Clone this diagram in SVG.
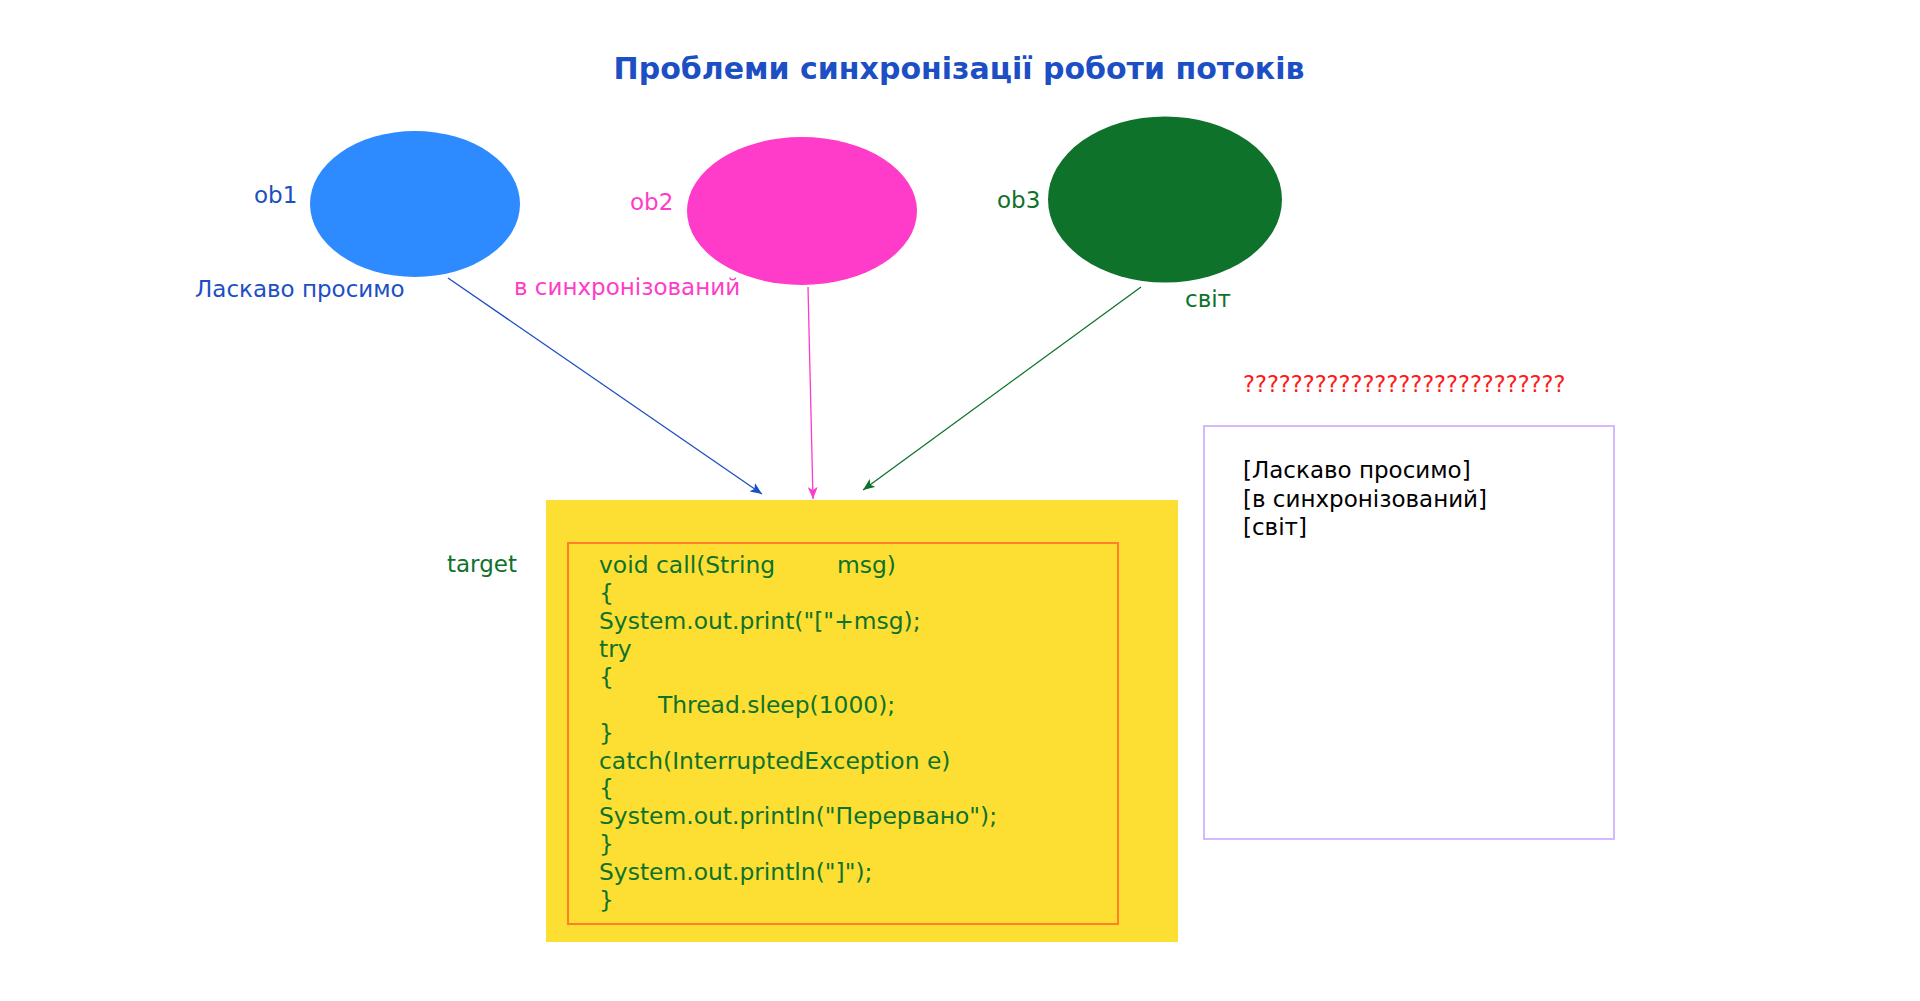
<svg xmlns="http://www.w3.org/2000/svg" width="1920" height="1001" viewBox="0 0 1920 1001">
<style>
text{font-family:"DejaVu Sans","Noto Sans",sans-serif;font-size:23px}
.title{font-weight:bold;font-size:30px;fill:#1c4fc4}
.blue{fill:#1c4fc4}
.pink{fill:#ff3bc9}
.green{fill:#0e722b}
.code{font-size:23.4px;fill:#0e722b}
.out{fill:#000}
.q{fill:#ff1a1a;font-size:22.5px}
.conn{fill:none;stroke-width:1.3}
</style>
<defs>
<marker id="ab" viewBox="0 0 12 10" refX="12" refY="5" markerWidth="12" markerHeight="10" markerUnits="userSpaceOnUse" orient="auto"><path d="M0,0 L12,5 L0,10 L3,5 z" fill="#1c4fc4"/></marker>
<marker id="ap" viewBox="0 0 12 10" refX="12" refY="5" markerWidth="12" markerHeight="10" markerUnits="userSpaceOnUse" orient="auto"><path d="M0,0 L12,5 L0,10 L3,5 z" fill="#ff3bc9"/></marker>
<marker id="ag" viewBox="0 0 12 10" refX="12" refY="5" markerWidth="12" markerHeight="10" markerUnits="userSpaceOnUse" orient="auto"><path d="M0,0 L12,5 L0,10 L3,5 z" fill="#0e722b"/></marker>
</defs>
<rect width="1920" height="1001" fill="#fff"/>
<text class="title" x="959" y="79" text-anchor="middle">Проблеми синхронізації роботи потоків</text>

<g id="ob1">
<ellipse cx="415" cy="204" rx="105" ry="73" fill="#2e8bff"/>
<text class="blue" x="254" y="203">ob1</text>
<text class="blue" x="195" y="297">Ласкаво просимо</text>
</g>
<g id="ob2">
<ellipse cx="802" cy="211" rx="115" ry="74" fill="#ff3bc9"/>
<text class="pink" x="630" y="210">ob2</text>
<text class="pink" x="514" y="295">в синхронізований</text>
</g>
<g id="ob3">
<ellipse cx="1165" cy="199.5" rx="117" ry="83" fill="#0e722b"/>
<text class="green" x="997" y="208">ob3</text>
<text class="green" x="1185" y="307">світ</text>
</g>

<g id="connectors">
<line class="conn" x1="448" y1="278" x2="762" y2="494" stroke="#1c4fc4" marker-end="url(#ab)"/>
<line class="conn" x1="808" y1="287" x2="813" y2="499" stroke="#ff3bc9" marker-end="url(#ap)"/>
<line class="conn" x1="1141" y1="287" x2="863" y2="490" stroke="#0e722b" marker-end="url(#ag)"/>
</g>

<g id="target">
<text class="green" x="447" y="572">target</text>
<rect x="546" y="500" width="632" height="442" fill="#fddf33"/>
<rect x="568" y="543" width="550" height="381" fill="none" stroke="#ff7f2a" stroke-width="2"/>
<text class="code">
<tspan x="599" y="573">void call(String</tspan><tspan x="837" y="573">msg)</tspan>
<tspan x="599" y="601">{</tspan>
<tspan x="599" y="629">System.out.print("["+msg);</tspan>
<tspan x="599" y="657">try</tspan>
<tspan x="599" y="685">{</tspan>
<tspan x="658" y="713">Thread.sleep(1000);</tspan>
<tspan x="599" y="741">}</tspan>
<tspan x="599" y="769">catch(InterruptedException e)</tspan>
<tspan x="599" y="796">{</tspan>
<tspan x="599" y="824">System.out.println("Перервано");</tspan>
<tspan x="599" y="852">}</tspan>
<tspan x="599" y="880">System.out.println("]");</tspan>
<tspan x="599" y="908">}</tspan>
</text>
</g>

<g id="output">
<text class="q" x="1243" y="392">???????????????????????????</text>
<rect x="1204" y="426" width="410" height="413" fill="#fff" stroke="#d5b8ff" stroke-width="2"/>
<text class="out">
<tspan x="1243" y="478">[Ласкаво просимо]</tspan>
<tspan x="1243" y="507">[в синхронізований]</tspan>
<tspan x="1243" y="535">[світ]</tspan>
</text>
</g>
</svg>
